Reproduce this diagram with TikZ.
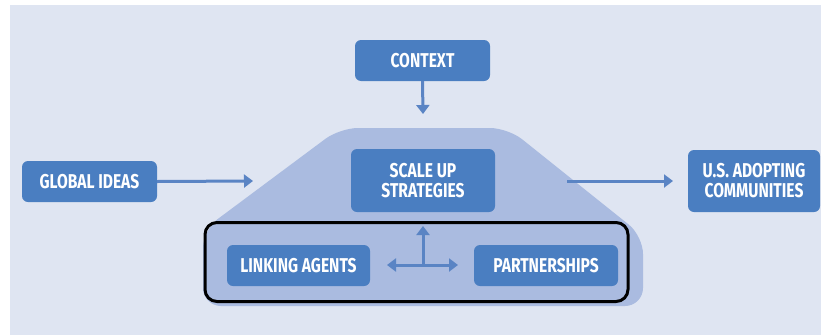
\documentclass[tikz,border=0pt]{standalone}
\usepackage{fontspec}
\newfontfamily\labfont{Fira Sans}[FakeStretch=0.78]
\usetikzlibrary{arrows.meta}
\definecolor{bgc}{HTML}{DFE5F2}
\definecolor{trap}{HTML}{AABBE0}
\definecolor{boxc}{HTML}{4A7EC1}
\definecolor{arrc}{HTML}{5A84C4}
\tikzset{
  bluebox/.style={fill=boxc, rounded corners=6pt, inner sep=0pt, align=center,
    text=white, font=\labfont\bfseries\fontsize{20}{20}\selectfont},
  conn/.style={draw=arrc, line width=3pt, -{Triangle[length=9pt,width=13pt]}},
  conn2/.style={draw=arrc, line width=3pt, {Triangle[length=9pt,width=13pt]}-{Triangle[length=9pt,width=13pt]}}
}
\begin{document}
\begin{tikzpicture}[x=1pt,y=-1pt]
\useasboundingbox (0,0) rectangle (821,335);
\fill[white] (0,0) rectangle (821,335);
\fill[bgc] (10,5) rectangle (821,335);
% trapezoid
\fill[trap, rounded corners=18pt] (203,306) -- (203,230) -- (340,128) -- (508,128) -- (643,236) -- (643,306) -- cycle;
% nodes
\node[bluebox, minimum width=135pt, minimum height=41pt] (context) at (422.5,60.5) {CONTEXT};
\node[bluebox, minimum width=135pt, minimum height=41pt] (global) at (89.5,181.5) {GLOBAL IDEAS};
\node[bluebox, minimum width=144pt, minimum height=63pt] (scale) at (423,180.5) {SCALE UP\\STRATEGIES};
\node[bluebox, minimum width=132pt, minimum height=62pt] (us) at (754,181) {U.S. ADOPTING\\COMMUNITIES};
\node[bluebox, minimum width=143pt, minimum height=41pt] (link) at (298.5,265.5) {LINKING AGENTS};
\node[bluebox, minimum width=144pt, minimum height=41pt] (part) at (546,265.5) {PARTNERSHIPS};
\node[draw=black, line width=3pt, rounded corners=12pt, minimum width=423pt, minimum height=79pt, inner sep=0pt] (frame) at (416.5,262) {};
% coordinates
\coordinate (ctxend) at (423,114);
\coordinate (gend) at (253,181);
\coordinate (ustart) at (567,181);
\coordinate (uend) at (673,181);
\coordinate (hl) at (387,265);
\coordinate (hr) at (458,265);
\coordinate (vmid) at (423,265);
\coordinate (vtop) at (423,226);
% connectors
\draw[conn] (context.south) -- (ctxend);
\draw[conn] (global.east) -- (gend);
\draw[conn] (ustart) -- (uend);
\draw[conn2] (hl) -- (hr);
\draw[conn] (vmid) -- (vtop);
\end{tikzpicture}
\end{document}
